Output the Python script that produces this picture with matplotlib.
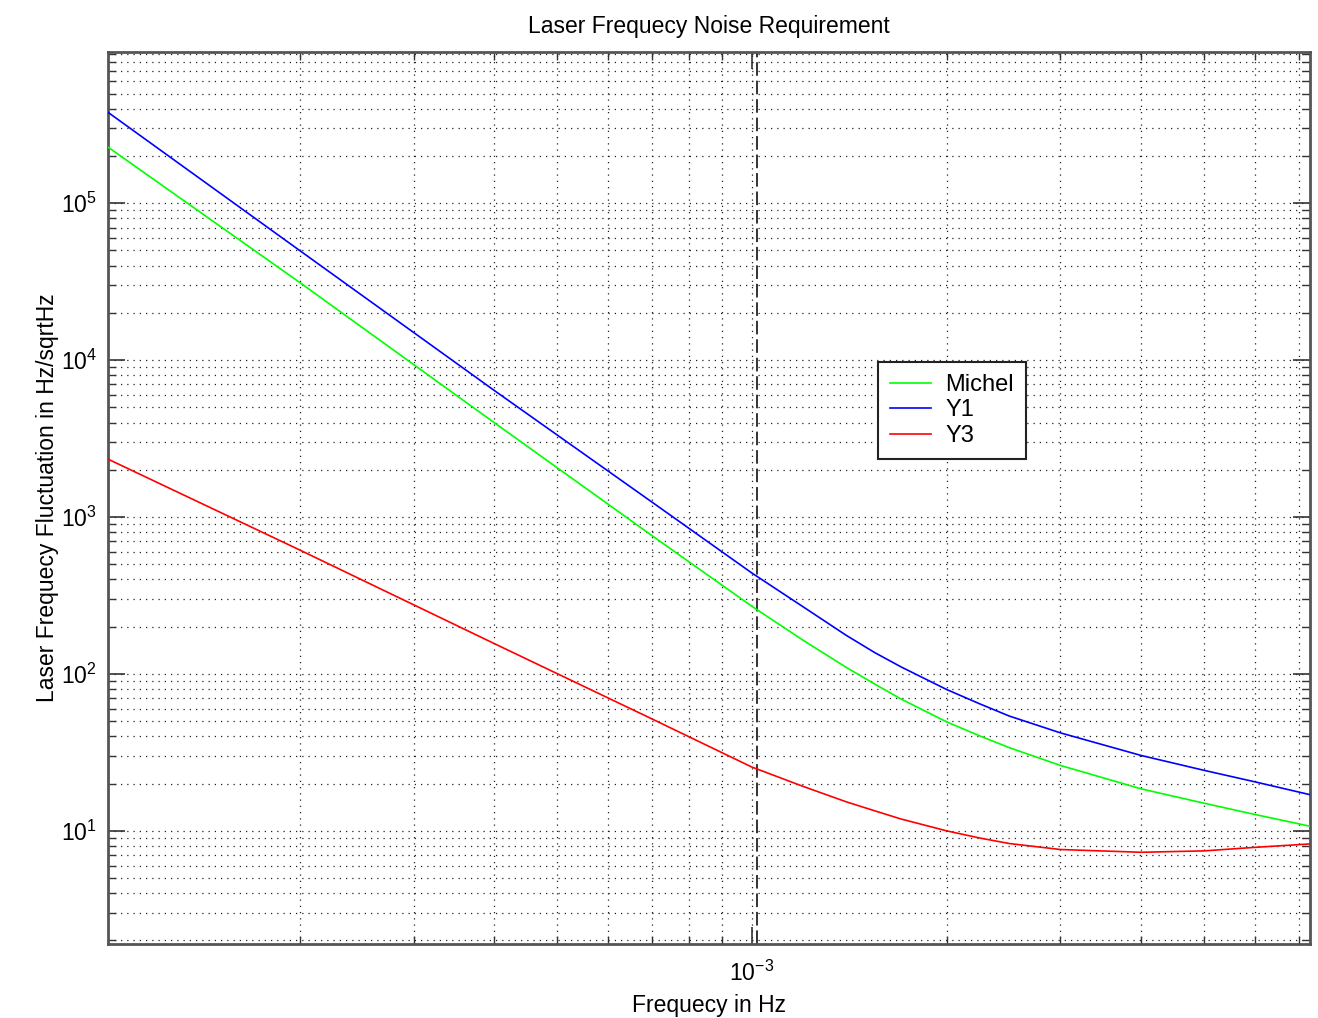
import matplotlib
matplotlib.use("Agg")
import matplotlib.pyplot as plt
from matplotlib.ticker import LogLocator, NullFormatter, FixedLocator, LogFormatterSciNotation

plt.rcParams["font.family"] = ["Liberation Sans", "DejaVu Sans"]

# values (log-log)
freq = [1.011e-4, 2e-4, 4e-4, 7e-4, 1e-3, 1.2e-3, 1.4e-3, 1.55e-3, 1.7e-3, 2e-3,
        2.25e-3, 2.5e-3, 3e-3, 4e-3, 5e-3, 6e-3, 7.29e-3]
michel = [2.28e5, 3.13e4, 3.99e3, 764, 270, 164, 110, 86, 69.3, 49.5,
          40.3, 33.9, 26.1, 18.5, 15.0, 12.7, 10.7]
y1 = [3.8e5, 5.0e4, 6.4e3, 1250, 440, 268, 176, 136.5, 111, 79.6,
      64.5, 53.9, 42.1, 30.2, 24.3, 20.5, 17.0]
y3 = [2340, 617, 156, 51.8, 25.5, 19.2, 15.3, 13.4, 11.9, 10.0,
      9.0, 8.3, 7.6, 7.3, 7.45, 7.85, 8.25]
marker_freq = 1.018e-3

fig = plt.figure(figsize=(13.18, 10.18), dpi=100)
ax = fig.add_axes([0.0819, 0.0727, 0.912, 0.8762])

ax.loglog(freq, michel, color=(0, 1, 0), lw=1.2, label="Michel", zorder=3)
ax.loglog(freq, y1, color=(0, 0, 1), lw=1.2, label="Y1", zorder=3)
ax.loglog(freq, y3, color=(1, 0, 0), lw=1.2, label="Y3", zorder=3)
ax.axvline(marker_freq, color="#333333", lw=1.4, linestyle=(0, (7, 2.5)), zorder=2)

ax.set_xlim(1.011e-4, 7.29e-3)
ax.set_ylim(1.9, 9.2e5)

ax.xaxis.set_major_locator(FixedLocator([1e-3]))
ax.xaxis.set_major_formatter(LogFormatterSciNotation())
ax.xaxis.set_minor_locator(LogLocator(base=10, subs=range(2, 10), numticks=20))
ax.xaxis.set_minor_formatter(NullFormatter())
ax.yaxis.set_major_locator(LogLocator(base=10, numticks=20))
ax.yaxis.set_minor_locator(LogLocator(base=10, subs=range(2, 10), numticks=20))
ax.yaxis.set_minor_formatter(NullFormatter())

ax.tick_params(which="both", direction="in", top=True, right=True,
               labelsize=16.5, color="#333333")
ax.tick_params(which="major", length=12, width=1.2)
ax.tick_params(which="minor", length=6, width=1.0)
ax.tick_params(axis="x", pad=12)
ax.tick_params(axis="y", pad=8)

ax.grid(True, which="both", color="#222222", linestyle=(0, (1, 4)), linewidth=0.9, zorder=1)
ax.set_axisbelow(True)

for sp in ax.spines.values():
    sp.set_color("#555555")
    sp.set_linewidth(2)

ax.set_title("Laser Frequecy Noise Requirement", fontsize=16.5, pad=14)
ax.set_xlabel("Frequecy in Hz", fontsize=16.5, labelpad=6)
ax.set_ylabel("Laser Frequecy Fluctuation in Hz/sqrtHz", fontsize=16.5, labelpad=1.5)

leg = ax.legend(loc="upper left", bbox_to_anchor=(0.6406, 0.6525), borderaxespad=0,
                fontsize=17, fancybox=False, framealpha=1, edgecolor="#222222",
                handlelength=1.75, handletextpad=0.6, labelspacing=0.15, borderpad=0.5)
leg.get_frame().set_linewidth(1.5)

fig.savefig("out.png", dpi=100)
